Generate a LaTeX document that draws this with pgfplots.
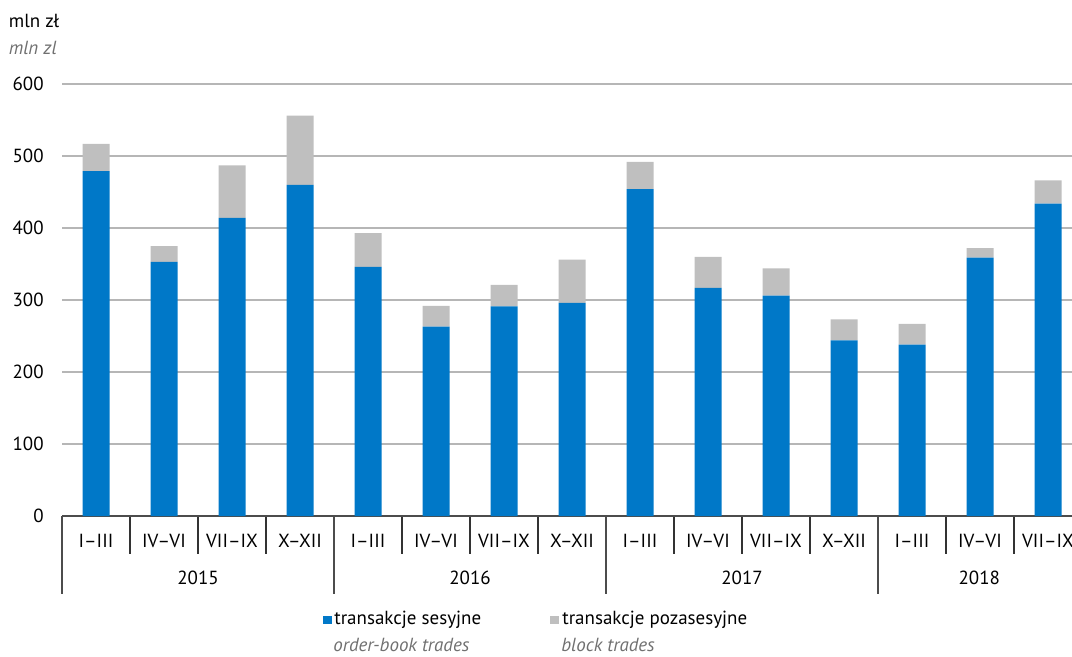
\documentclass[border=0pt]{standalone}
\usepackage{fontspec}
\setmainfont{PT Sans}
\usepackage{pgfplots}
\pgfplotsset{compat=1.18}
\definecolor{sblue}{RGB}{0,120,200}
\definecolor{sgray}{RGB}{191,191,191}
\definecolor{gridc}{RGB}{182,182,182}
\definecolor{itgray}{RGB}{112,112,112}
\newcommand{\fs}{\fontsize{10.8}{13}\selectfont}
\begin{document}
\begin{tikzpicture}
\fs
\path[use as bounding box] (0,0) rectangle (21.44cm,13.12cm);
\clip (0,0) rectangle (21.44cm,13.12cm);
\begin{axis}[
  at={(1.24cm,2.8cm)}, anchor=south west,
  scale only axis, width=20.2cm, height=8.64cm,
  xmin=-0.5, xmax=14.353, ymin=0, ymax=600,
  clip=false,
  ybar stacked, bar width=0.54cm,
  axis line style={draw=none},
  tick style={draw=none},
  ytick={0,100,...,600},
  ymajorgrids, grid style={gridc, line width=0.9pt},
  /pgf/number format/assume math mode=true,
  yticklabel style={anchor=east, inner sep=0pt, xshift=-0.36cm, font=\fs},
  xtick={0,...,14},
  xticklabels={I–III,IV–VI,VII–IX,X–XII,I–III,IV–VI,VII–IX,X–XII,I–III,IV–VI,VII–IX,X–XII,I–III,IV–VI,VII–IX},
  xticklabel style={anchor=center, inner sep=0pt, yshift=-0.5cm, font=\fs},
]
\addplot[fill=sblue, draw=none] coordinates {
(0,479) (1,353) (2,414) (3,460) (4,346) (5,263) (6,291) (7,296)
(8,454) (9,317) (10,306) (11,244) (12,238) (13,359) (14,434)};
\addplot[fill=sgray, draw=none] coordinates {
(0,38) (1,22) (2,73) (3,96) (4,47) (5,29) (6,30) (7,60)
(8,38) (9,43) (10,38) (11,29) (12,29) (13,13) (14,32)};
% x axis line
\draw[black!70, line width=0.9pt] (axis cs:-0.5,0) -- (axis cs:14.353,0);
% quarter separators
\pgfplotsinvokeforeach{0.5,1.5,2.5,4.5,5.5,6.5,8.5,9.5,10.5,12.5,13.5}{
  \draw[black!80, line width=0.7pt] (axis cs:#1,0) -- ++(0pt,-0.76cm);
}
% year separators
\pgfplotsinvokeforeach{-0.5,3.5,7.5,11.5}{
  \draw[black!70, line width=0.7pt] (axis cs:#1,0) -- ++(0pt,-1.56cm);
}
% year labels
\path (axis cs:1.5,0) ++(0pt,-1.24cm) node[anchor=center, inner sep=0pt] {2015};
\path (axis cs:5.5,0) ++(0pt,-1.24cm) node[anchor=center, inner sep=0pt] {2016};
\path (axis cs:9.5,0) ++(0pt,-1.24cm) node[anchor=center, inner sep=0pt] {2017};
\path (axis cs:12.99,0) ++(0pt,-1.24cm) node[anchor=center, inner sep=0pt] {2018};
\end{axis}
% unit labels
\node[anchor=base west, inner sep=0pt] at (0.17cm,12.57cm) {mln zł};
\node[anchor=base west, inner sep=0pt, text=itgray] at (0.17cm,12.02cm) {\itshape mln zl};
% legend
\fill[sblue] (6.46cm,0.64cm) rectangle (6.63cm,0.80cm);
\node[anchor=base west, inner sep=0pt] at (6.68cm,0.63cm) {transakcje sesyjne};
\node[anchor=base west, inner sep=0pt, text=itgray] at (6.66cm,0.09cm) {\itshape order-book trades};
\fill[sgray] (11.0cm,0.64cm) rectangle (11.17cm,0.80cm);
\node[anchor=base west, inner sep=0pt] at (11.24cm,0.63cm) {transakcje pozasesyjne};
\node[anchor=base west, inner sep=0pt, text=itgray] at (11.22cm,0.09cm) {\itshape block trades};
\end{tikzpicture}
\end{document}
